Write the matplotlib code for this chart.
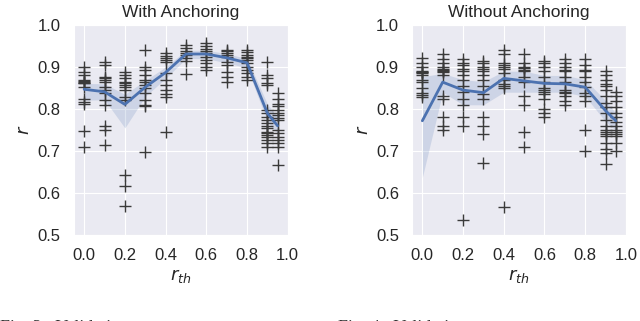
import numpy as np
import matplotlib
matplotlib.use("Agg")
import matplotlib.pyplot as plt
import seaborn as sns

# thresholds used on the x axis
r_th = [0.0, 0.1, 0.2, 0.3, 0.4, 0.5, 0.6, 0.7, 0.8, 0.9, 0.95]

# With Anchoring: individual runs per threshold
anch_points = [
    [0.90, 0.889, 0.881, 0.869, 0.867, 0.865, 0.863, 0.861, 0.853, 0.823, 0.817, 0.813, 0.748, 0.709],
    [0.913, 0.905, 0.877, 0.873, 0.869, 0.865, 0.853, 0.845, 0.837, 0.821, 0.81, 0.760, 0.75, 0.714],
    [0.889, 0.881, 0.873, 0.865, 0.861, 0.857, 0.853, 0.845, 0.829, 0.821, 0.644, 0.617, 0.570],
    [0.94, 0.90, 0.893, 0.881, 0.869, 0.865, 0.857, 0.849, 0.837, 0.821, 0.81, 0.806, 0.697],
    [0.933, 0.927, 0.921, 0.917, 0.913, 0.885, 0.869, 0.857, 0.845, 0.835, 0.829, 0.745],
    [0.953, 0.945, 0.937, 0.933, 0.929, 0.921, 0.915, 0.883],
    [0.957, 0.949, 0.943, 0.937, 0.933, 0.925, 0.917, 0.909, 0.901, 0.893],
    [0.941, 0.937, 0.933, 0.929, 0.925, 0.913, 0.905, 0.889, 0.877, 0.865],
    [0.941, 0.935, 0.929, 0.925, 0.921, 0.917, 0.909, 0.901, 0.893, 0.885, 0.877, 0.869],
    [0.913, 0.881, 0.875, 0.861, 0.857, 0.798, 0.79, 0.782, 0.774, 0.766, 0.76, 0.754,
     0.746, 0.742, 0.738, 0.734, 0.726, 0.718, 0.71],
    [0.837, 0.825, 0.813, 0.806, 0.798, 0.79, 0.786, 0.778, 0.774, 0.75, 0.742, 0.734,
     0.726, 0.718, 0.71, 0.667],
]
anch_mean = [0.847, 0.841, 0.811, 0.852, 0.887, 0.931, 0.931, 0.922, 0.910, 0.790, 0.760]
anch_low = [0.821, 0.822, 0.755, 0.830, 0.873, 0.920, 0.920, 0.910, 0.898, 0.770, 0.742]
anch_high = [0.861, 0.860, 0.835, 0.868, 0.900, 0.940, 0.940, 0.932, 0.920, 0.812, 0.780]

# Without Anchoring
free_points = [
    [0.921, 0.909, 0.901, 0.891, 0.889, 0.887, 0.885, 0.881, 0.870, 0.865, 0.851, 0.838, 0.833, 0.829],
    [0.93, 0.92, 0.91, 0.90, 0.895, 0.892, 0.89, 0.888, 0.88, 0.83, 0.825, 0.78, 0.76, 0.75],
    [0.92, 0.91, 0.905, 0.895, 0.89, 0.88, 0.87, 0.855, 0.84, 0.825, 0.81, 0.78, 0.76, 0.536],
    [0.915, 0.91, 0.90, 0.895, 0.89, 0.88, 0.87, 0.855, 0.835, 0.825, 0.78, 0.76, 0.74, 0.671],
    [0.94, 0.93, 0.91, 0.905, 0.90, 0.895, 0.885, 0.87, 0.86, 0.855, 0.85, 0.567],
    [0.93, 0.91, 0.90, 0.897, 0.893, 0.89, 0.877, 0.865, 0.83, 0.81, 0.745, 0.71],
    [0.915, 0.91, 0.90, 0.89, 0.877, 0.865, 0.85, 0.845, 0.84, 0.835, 0.825, 0.80, 0.79, 0.78],
    [0.92, 0.91, 0.90, 0.893, 0.89, 0.877, 0.865, 0.845, 0.84, 0.838, 0.83, 0.82, 0.81],
    [0.92, 0.905, 0.893, 0.89, 0.877, 0.865, 0.853, 0.838, 0.83, 0.82, 0.75, 0.70],
    [0.89, 0.88, 0.87, 0.86, 0.855, 0.845, 0.83, 0.815, 0.805, 0.79, 0.775, 0.76, 0.75,
     0.745, 0.74, 0.735, 0.72, 0.705, 0.695, 0.67],
    [0.84, 0.83, 0.82, 0.805, 0.79, 0.78, 0.77, 0.76, 0.75, 0.745, 0.74, 0.735, 0.72, 0.70],
]
free_mean = [0.772, 0.864, 0.845, 0.839, 0.873, 0.867, 0.861, 0.860, 0.852, 0.796, 0.772]
free_low = [0.637, 0.840, 0.810, 0.810, 0.840, 0.840, 0.840, 0.840, 0.830, 0.770, 0.750]
free_high = [0.877, 0.885, 0.870, 0.865, 0.890, 0.890, 0.880, 0.880, 0.870, 0.820, 0.790]

titles = ["With Anchoring", "Without Anchoring"]
captions = ["Fig. 3:  Validation", "Fig. 4:  Validation"]

sns.set_style("darkgrid")
plt.rcParams["font.family"] = ["Liberation Sans", "DejaVu Sans"]
plt.rcParams["mathtext.fontset"] = "dejavusans"

fig = plt.figure(figsize=(6.4, 3.21), dpi=100)
ax_left = fig.add_axes([0.1156, 0.268, 0.334, 0.654])
ax_right = fig.add_axes([0.644, 0.268, 0.334, 0.654])

panels = [
    (ax_left, anch_points, anch_mean, anch_low, anch_high),
    (ax_right, free_points, free_mean, free_low, free_high),
]

for i, (ax, pts, mean, low, high) in enumerate(panels):
    for x, col in zip(r_th, pts):
        ax.plot([x] * len(col), col, linestyle="none", marker="+",
                ms=8, mew=1.0, color="#3a3a3a", zorder=3)
    ax.fill_between(r_th, low, high, color="#4c72b0", alpha=0.18, lw=0, zorder=2)
    ax.plot(r_th, mean, color="#4c72b0", lw=2.0, zorder=4)

    ax.set_xlim(-0.05, 1.0)
    ax.set_ylim(0.5, 1.0)
    ax.set_xticks([0.0, 0.2, 0.4, 0.6, 0.8, 1.0])
    ax.set_yticks([0.5, 0.6, 0.7, 0.8, 0.9, 1.0])
    ax.tick_params(labelsize=12, colors="#262626", pad=6)
    ax.set_title(titles[i], fontsize=12.5, color="#262626", pad=6)
    ax.set_xlabel("$r_{th}$", fontsize=13, color="#262626", labelpad=3)
    ax.set_ylabel("$r$", fontsize=13, color="#262626", labelpad=3)

# paper captions, only their top edge is inside the crop
fig.text(0.0, -0.036, captions[0], fontsize=13, family="Liberation Serif", color="#333333")
fig.text(0.528, -0.036, captions[1], fontsize=13, family="Liberation Serif", color="#333333")

fig.savefig("out.png", dpi=100)
